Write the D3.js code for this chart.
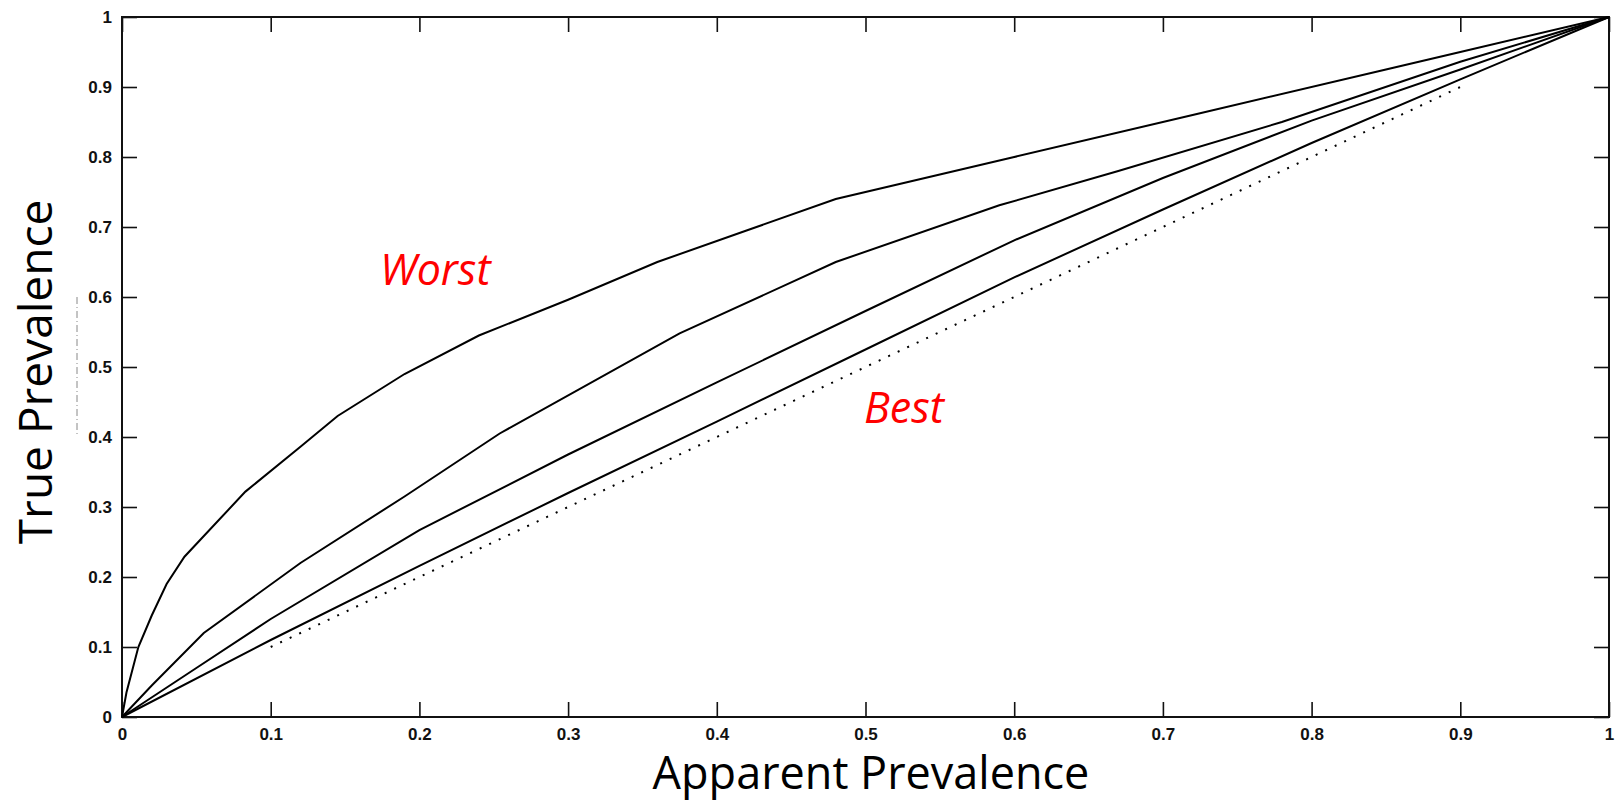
<!DOCTYPE html>
<html>
<head>
<meta charset="utf-8">
<title>True vs Apparent Prevalence</title>
<script src="https://d3js.org/d3.v7.min.js"></script>
<style>
  html, body { margin: 0; padding: 0; background: #fff; }
  .tick text { font-family: "Liberation Sans", Arial, sans-serif; font-weight: bold; font-size: 17px; fill: #111; }
  .tick line { stroke: #111; stroke-width: 1.6px; }
</style>
</head>
<body>
<script>
// curves, [apparent, true]
const curveWorst = [[0,0],[0.003,0.035],[0.011,0.10],[0.02,0.145],[0.03,0.19],[0.042,0.229],[0.083,0.322],
  [0.12,0.386],[0.145,0.43],[0.19,0.49],[0.24,0.545],[0.30,0.596],[0.36,0.65],[0.42,0.695],[0.48,0.74],
  [0.6,0.80],[0.72,0.86],[0.85,0.925],[0.9,0.95],[1,1]];
const curveSecond = [[0,0],[0.02,0.045],[0.055,0.12],[0.12,0.22],[0.19,0.315],[0.254,0.405],[0.375,0.548],
  [0.48,0.65],[0.59,0.731],[0.67,0.78],[0.78,0.85],[0.9,0.936],[1,1]];
const curveThird = [[0,0],[0.05,0.07],[0.1,0.14],[0.2,0.267],[0.3,0.375],[0.4,0.478],[0.5,0.58],
  [0.6,0.681],[0.7,0.77],[0.8,0.852],[0.9,0.925],[1,1]];
const curveBest = [[0,0],[0.1,0.11],[0.2,0.216],[0.3,0.32],[0.4,0.422],[0.5,0.525],[0.6,0.628],
  [0.7,0.725],[0.8,0.82],[0.9,0.911],[1,1]];
const diagonal = [[0.1,0.1],[0.9,0.9]];

const tickValues = [0,0.1,0.2,0.3,0.4,0.5,0.6,0.7,0.8,0.9,1];
const tickLabels = ["0","0.1","0.2","0.3","0.4","0.5","0.6","0.7","0.8","0.9","1"];

const width = 1616, height = 805;
const margin = {left: 122, right: 7, top: 17, bottom: 88};

const svg = d3.select("body").append("svg")
  .attr("width", width)
  .attr("height", height);

const x = d3.scaleLinear().domain([0, 1]).range([margin.left, width - margin.right]);
const y = d3.scaleLinear().domain([0, 1]).range([height - margin.bottom, margin.top]);

const fmt = d => tickLabels[tickValues.indexOf(d)];

// axes, ticks pointing inwards on all four sides
svg.append("g")
  .attr("transform", `translate(0,${y(0)})`)
  .call(d3.axisBottom(x).tickValues(tickValues).tickFormat(fmt).tickSizeInner(-15).tickSizeOuter(0).tickPadding(11))
  .call(g => g.select(".domain").remove());
svg.append("g")
  .attr("transform", `translate(${x(0)},0)`)
  .call(d3.axisLeft(y).tickValues(tickValues).tickFormat(fmt).tickSizeInner(-15).tickSizeOuter(0).tickPadding(10))
  .call(g => g.select(".domain").remove());
svg.append("g")
  .attr("transform", `translate(0,${y(1)})`)
  .call(d3.axisTop(x).tickValues(tickValues).tickFormat("").tickSizeInner(-15).tickSizeOuter(0))
  .call(g => g.select(".domain").remove());
svg.append("g")
  .attr("transform", `translate(${x(1)},0)`)
  .call(d3.axisRight(y).tickValues(tickValues).tickFormat("").tickSizeInner(-15).tickSizeOuter(0))
  .call(g => g.select(".domain").remove());

// box
svg.append("rect")
  .attr("x", x(0)).attr("y", y(1))
  .attr("width", x(1) - x(0)).attr("height", y(0) - y(1))
  .attr("fill", "none").attr("stroke", "#111").attr("stroke-width", 2);

const line = d3.line().x(d => x(d[0])).y(d => y(d[1]));

[curveWorst, curveSecond, curveThird, curveBest].forEach(c => {
  svg.append("path")
    .attr("d", line(c))
    .attr("fill", "none")
    .attr("stroke", "#000")
    .attr("stroke-width", 2);
});

svg.append("path")
  .attr("d", line(diagonal))
  .attr("fill", "none")
  .attr("stroke", "#000")
  .attr("stroke-width", 2)
  .attr("stroke-dasharray", "2,8.5");

// faint scan leftover next to the y axis
svg.append("line")
  .attr("x1", 77).attr("x2", 77)
  .attr("y1", y(0.6)).attr("y2", y(0.4))
  .attr("stroke", "#888").attr("stroke-width", 1)
  .attr("stroke-dasharray", "7,3,1,3");

// axis titles
svg.append("text")
  .attr("x", 871).attr("y", 789)
  .attr("text-anchor", "middle")
  .style("font-family", "'Open Sans', sans-serif")
  .style("font-size", "45px")
  .text("Apparent Prevalence");

svg.append("text")
  .attr("transform", "translate(52,372) rotate(-90)")
  .attr("text-anchor", "middle")
  .style("font-family", "'Open Sans', sans-serif")
  .style("font-size", "46px")
  .text("True Prevalence");

// annotations
svg.append("text")
  .attr("x", 380).attr("y", 285)
  .style("font-family", "'Open Sans', sans-serif")
  .style("font-style", "italic")
  .style("font-size", "43px")
  .attr("fill", "#ff0000")
  .text("Worst");

svg.append("text")
  .attr("x", 864).attr("y", 423)
  .style("font-family", "'Open Sans', sans-serif")
  .style("font-style", "italic")
  .style("font-size", "43px")
  .attr("fill", "#ff0000")
  .text("Best");
</script>
</body>
</html>
